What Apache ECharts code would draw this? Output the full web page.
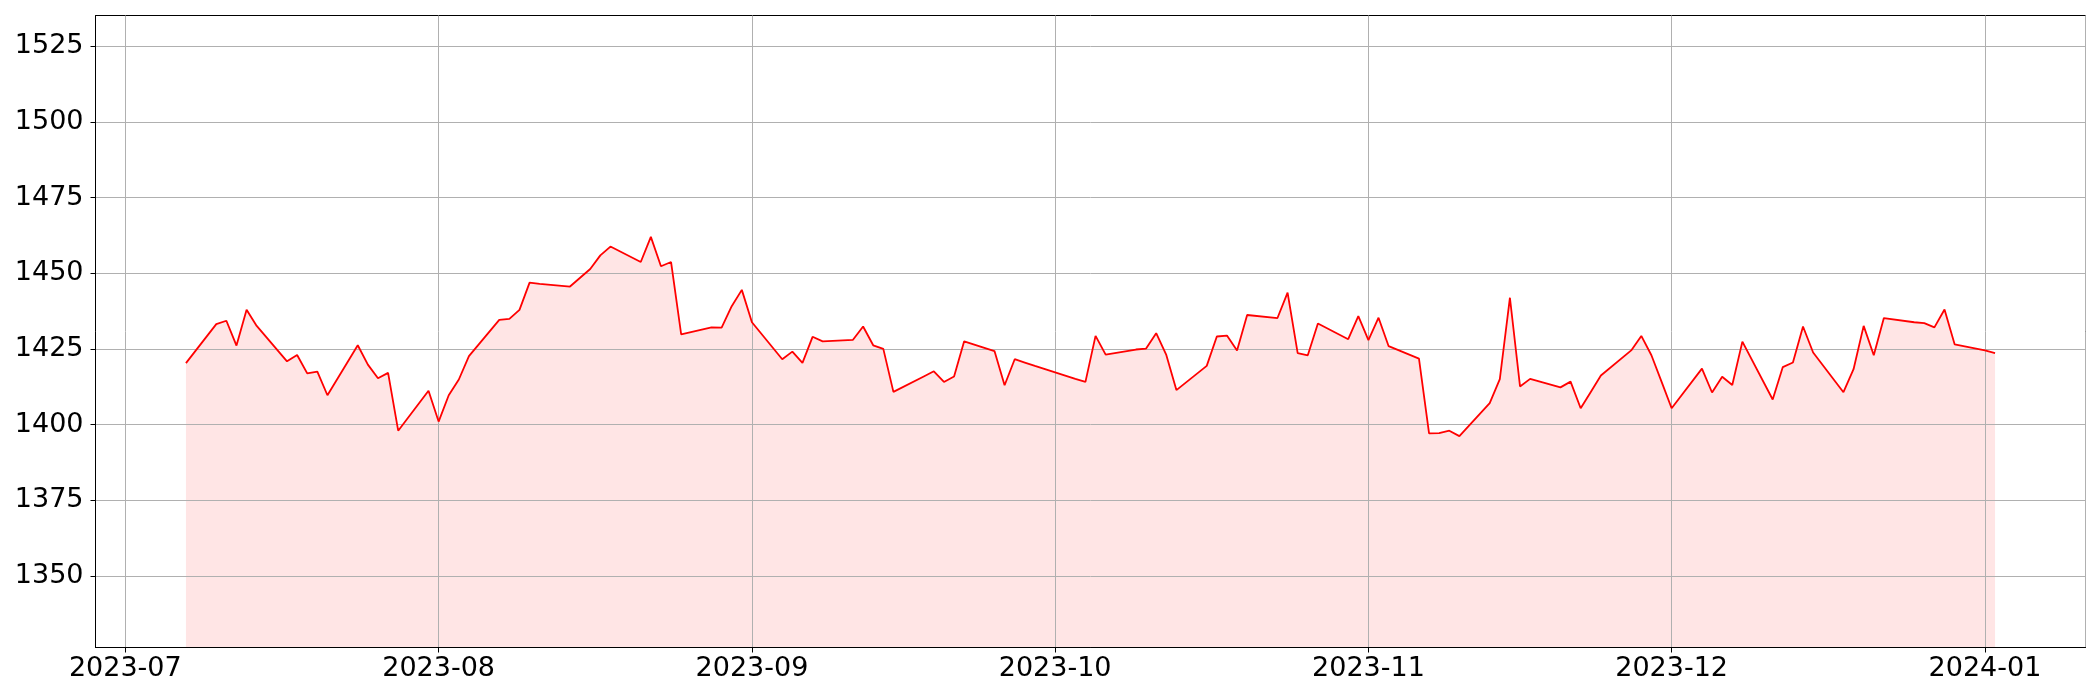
<!DOCTYPE html>
<html>
<head>
<meta charset="utf-8">
<script src="https://cdn.jsdelivr.net/npm/echarts@6/dist/echarts.min.js"></script>
<style>
  html, body { margin: 0; padding: 0; background: #fff; }
  #chart { width: 2100px; height: 700px; }
</style>
</head>
<body>
<div id="chart"></div>
<script>
// trading days
const dates = [
  '2023-07-07', '2023-07-10', '2023-07-11', '2023-07-12', '2023-07-13', '2023-07-14',
  '2023-07-17', '2023-07-18', '2023-07-19', '2023-07-20', '2023-07-21',
  '2023-07-24', '2023-07-25', '2023-07-26', '2023-07-27', '2023-07-28',
  '2023-07-31', '2023-08-01', '2023-08-02', '2023-08-03', '2023-08-04',
  '2023-08-07', '2023-08-08', '2023-08-09', '2023-08-10', '2023-08-11',
  '2023-08-14', '2023-08-15', '2023-08-16', '2023-08-17', '2023-08-18',
  '2023-08-21', '2023-08-22', '2023-08-23', '2023-08-24', '2023-08-25',
  '2023-08-28', '2023-08-29', '2023-08-30', '2023-08-31', '2023-09-01',
  '2023-09-04', '2023-09-05', '2023-09-06', '2023-09-07', '2023-09-08',
  '2023-09-11', '2023-09-12', '2023-09-13', '2023-09-14', '2023-09-15',
  '2023-09-18', '2023-09-19', '2023-09-20', '2023-09-21', '2023-09-22',
  '2023-09-25', '2023-09-26', '2023-09-27', '2023-09-28', '2023-09-29',
  '2023-10-02', '2023-10-03', '2023-10-04', '2023-10-05', '2023-10-06',
  '2023-10-09', '2023-10-10', '2023-10-11', '2023-10-12', '2023-10-13',
  '2023-10-16', '2023-10-17', '2023-10-18', '2023-10-19', '2023-10-20',
  '2023-10-23', '2023-10-24', '2023-10-25', '2023-10-26', '2023-10-27',
  '2023-10-30', '2023-10-31', '2023-11-01', '2023-11-02', '2023-11-03',
  '2023-11-06', '2023-11-07', '2023-11-08', '2023-11-09', '2023-11-10',
  '2023-11-13', '2023-11-14', '2023-11-15', '2023-11-16', '2023-11-17',
  '2023-11-20', '2023-11-21', '2023-11-22', '2023-11-23', '2023-11-24',
  '2023-11-27', '2023-11-28', '2023-11-29', '2023-11-30', '2023-12-01',
  '2023-12-04', '2023-12-05', '2023-12-06', '2023-12-07', '2023-12-08',
  '2023-12-11', '2023-12-12', '2023-12-13', '2023-12-14', '2023-12-15',
  '2023-12-18', '2023-12-19', '2023-12-20', '2023-12-21', '2023-12-22',
  '2023-12-25', '2023-12-26', '2023-12-27', '2023-12-28', '2023-12-29',
  '2024-01-01', '2024-01-02'
];

const prices = [
  1420.3, 1433.2, 1434.3, 1426.1, 1437.9, 1432.6,
  1420.9, 1423.0, 1416.9, 1417.5, 1409.7,
  1426.2, 1419.8, 1415.3, 1417.1, 1398.0,
  1411.2, 1401.0, 1409.7, 1414.9, 1422.6,
  1434.6, 1434.9, 1437.9, 1446.9, 1446.5,
  1445.6, 1448.5, 1451.4, 1455.9, 1458.8,
  1453.7, 1462.0, 1452.3, 1453.7, 1429.8,
  1432.1, 1432.0, 1439.1, 1444.5, 1433.8,
  1421.6, 1424.1, 1420.4, 1429.0, 1427.5,
  1428.0, 1432.4, 1426.2, 1425.0, 1410.8,
  1415.9, 1417.6, 1414.1, 1415.9, 1427.5,
  1424.3, 1413.0, 1421.6, 1420.5, 1419.4,
  1416.2, 1415.1, 1414.1, 1429.3, 1423.1,
  1424.8, 1425.1, 1430.2, 1423.0, 1411.4,
  1419.4, 1429.1, 1429.4, 1424.5, 1436.2,
  1435.2, 1443.6, 1423.6, 1422.9, 1433.4,
  1428.2, 1435.8, 1427.9, 1435.3, 1425.9,
  1421.8, 1397.1, 1397.2, 1398.0, 1396.2,
  1407.1, 1415.0, 1441.9, 1412.6, 1415.1,
  1412.3, 1414.2, 1405.4, 1410.8, 1416.2,
  1424.5, 1429.3, 1422.9, 1414.2, 1405.4,
  1418.5, 1410.6, 1415.8, 1413.1, 1427.4,
  1408.3, 1419.0, 1420.5, 1432.4, 1423.8,
  1410.7, 1418.3, 1432.6, 1422.9, 1435.2,
  1433.8, 1433.5, 1432.1, 1438.0, 1426.5,
  1424.5, 1423.6
];

const yTicks = [1350, 1375, 1400, 1425, 1450, 1475, 1500, 1525];

const chart = echarts.init(document.getElementById('chart'));

const seriesData = dates.map((d, i) => [d, prices[i]]);

// x range: data range plus 5% margin on both sides
const xMin = new Date(2023, 5, 28, 1, 12).getTime();
const xMax = new Date(2024, 0, 10, 22, 48).getTime();

const pad2 = (n) => (n < 10 ? '0' + n : '' + n);

const option = {
  animation: false,
  backgroundColor: '#fff',
  grid: {
    left: 95.5,
    right: 14.5,
    top: 15.5,
    bottom: 52.5,
    outerBoundsMode: 'none',
    show: true,
    borderColor: '#000',
    borderWidth: 1,
    backgroundColor: 'transparent'
  },
  xAxis: {
    type: 'time',
    min: xMin,
    max: xMax,
    z: 2,
    splitNumber: 7,
    minInterval: 28 * 86400000,
    maxInterval: 31 * 86400000,
    axisLine: { show: true, lineStyle: { color: '#000', width: 1 } },
    axisTick: { show: true, length: 5, lineStyle: { color: '#000', width: 1 } },
    axisLabel: {
      color: '#000',
      fontSize: 27,
      fontFamily: 'DejaVu Sans',
      margin: 8,
      showMinLabel: false,
      showMaxLabel: false,
      formatter: (val) => {
        const d = new Date(val);
        return d.getFullYear() + '-' + pad2(d.getMonth() + 1);
      }
    },
    splitLine: { show: true, lineStyle: { color: '#b0b0b0', width: 1 } }
  },
  yAxis: {
    type: 'value',
    min: 1326.4,
    max: 1535.1,
    z: 2,
    axisLine: { show: true, lineStyle: { color: '#000', width: 1 } },
    axisTick: { show: true, length: 5, customValues: yTicks, lineStyle: { color: '#000', width: 1 } },
    axisLabel: {
      color: '#000',
      fontSize: 27,
      fontFamily: 'DejaVu Sans',
      margin: 12,
      customValues: yTicks,
      formatter: (v) => String(v)
    },
    splitLine: { show: true, lineStyle: { color: '#b0b0b0', width: 1 } }
  },
  series: [
    {
      // pink fill under the line
      type: 'line',
      data: seriesData,
      symbol: 'none',
      z: 1,
      lineStyle: { width: 0 },
      areaStyle: { color: 'rgba(255, 0, 0, 0.1)', origin: 'start', opacity: 1 }
    },
    {
      type: 'line',
      data: seriesData,
      symbol: 'none',
      z: 3,
      lineStyle: { color: '#ff0000', width: 1.8 }
    }
  ]
};

chart.setOption(option);
</script>
</body>
</html>
